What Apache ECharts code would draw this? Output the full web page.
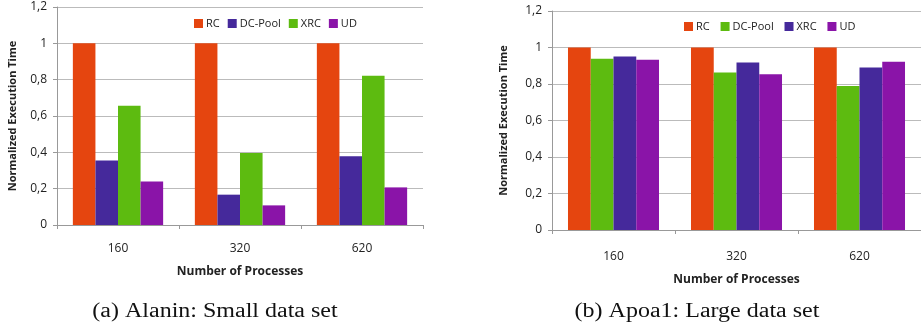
<!DOCTYPE html>
<html>
<head>
<meta charset="utf-8">
<script src="https://cdn.jsdelivr.net/npm/echarts@6/dist/echarts.min.js"></script>
<style>
html, body { margin: 0; padding: 0; background: #fff; }
#chart { width: 921px; height: 329px; }
</style>
</head>
<body>
<div id="chart"></div>
<script>
// categories (number of processes)
var categories = ['160', '320', '620']
var seriesNames = ['RC', 'DC-Pool', 'XRC', 'UD']

// (a) Alanin: small data set
var alaninRC = [1, 1, 1]
var alaninDCPool = [0.355, 0.167, 0.379]
var alaninXRC = [0.657, 0.396, 0.822]
var alaninUD = [0.24, 0.108, 0.207]

// (b) Apoa1: large data set
var apoaRC = [1, 1, 1]
var apoaDCPool = [0.938, 0.863, 0.789]
var apoaXRC = [0.951, 0.918, 0.891]
var apoaUD = [0.933, 0.854, 0.922]

var captions = ['(a) Alanin: Small data set', '(b) Apoa1: Large data set']

var RED = '#e5450f'
var BLUE = '#45299b'
var GREEN = '#5dbb10'
var PURPLE = '#8a14a8'

function xAxisFor (idx) {
  return {
    type: 'category',
    gridIndex: idx,
    data: categories,
    name: 'Number of Processes',
    nameLocation: 'middle',
    nameGap: idx === 0 ? 41 : 44,
    nameTextStyle: { fontFamily: 'Open Sans', fontWeight: 'bold', fontSize: 12, color: '#222' },
    axisLine: { lineStyle: { color: '#999', width: 1 } },
    axisTick: { show: true, length: 4, lineStyle: { color: '#999' } },
    axisLabel: { fontFamily: 'Open Sans', fontSize: 12, color: '#222', margin: idx === 0 ? 18 : 21 }
  }
}

function yAxisFor (idx) {
  return {
    type: 'value',
    gridIndex: idx,
    min: 0,
    max: 1.2,
    interval: 0.2,
    name: 'Normalized Execution Time',
    nameLocation: 'middle',
    nameGap: idx === 0 ? 39 : 43,
    nameTextStyle: { fontFamily: 'Open Sans', fontWeight: 'bold', fontSize: 11, color: '#222' },
    axisLine: { show: true, lineStyle: { color: '#999', width: 1 } },
    axisTick: { show: true, length: 4, lineStyle: { color: '#999' } },
    splitLine: { show: true, lineStyle: { color: '#bbb', width: 1 } },
    axisLabel: {
      fontFamily: 'Open Sans',
      fontSize: 12,
      color: '#222',
      margin: 10,
      formatter: function (v) { return String(Math.round(v * 10) / 10).replace('.', ',') }
    }
  }
}

function bar (name, idx, data, color) {
  return {
    name: name,
    type: 'bar',
    xAxisIndex: idx,
    yAxisIndex: idx,
    data: data,
    barGap: '0%',
    barCategoryGap: '26%',
    itemStyle: { color: color },
    emphasis: { disabled: true }
  }
}

function legendFor (idx, left, top, colors) {
  return {
    left: left,
    top: top,
    itemWidth: 9,
    itemHeight: 9,
    itemGap: 8,
    icon: 'rect',
    textStyle: { fontFamily: 'Open Sans', fontSize: 11, color: '#222', padding: [0, 0, 0, -2] },
    data: seriesNames.map(function (n, i) {
      return { name: n + (idx === 0 ? '' : ' '), itemStyle: { color: colors[i] } }
    })
  }
}

function caption (text, x) {
  return {
    type: 'text',
    x: x,
    y: 312,
    scaleX: 1.2,
    style: {
      text: text,
      align: 'center',
      verticalAlign: 'middle',
      fontFamily: 'Liberation Serif',
      fontSize: 20,
      fill: '#111'
    }
  }
}

var chart = echarts.init(document.getElementById('chart'))
chart.setOption({
  animation: false,
  graphic: [caption(captions[0], 215), caption(captions[1], 697)],
  legend: [
    legendFor(0, 189, 13, [RED, BLUE, GREEN, PURPLE]),
    legendFor(1, 679, 16, [RED, GREEN, BLUE, PURPLE])
  ],
  grid: [
    { left: 57, right: 498, top: 7, bottom: 104 },
    { left: 552, right: 0, top: 11, bottom: 99 }
  ],
  xAxis: [xAxisFor(0), xAxisFor(1)],
  yAxis: [yAxisFor(0), yAxisFor(1)],
  series: [
    bar('RC', 0, alaninRC, RED),
    bar('DC-Pool', 0, alaninDCPool, BLUE),
    bar('XRC', 0, alaninXRC, GREEN),
    bar('UD', 0, alaninUD, PURPLE),
    bar('RC ', 1, apoaRC, RED),
    bar('DC-Pool ', 1, apoaDCPool, GREEN),
    bar('XRC ', 1, apoaXRC, BLUE),
    bar('UD ', 1, apoaUD, PURPLE)
  ]
})
</script>
</body>
</html>
